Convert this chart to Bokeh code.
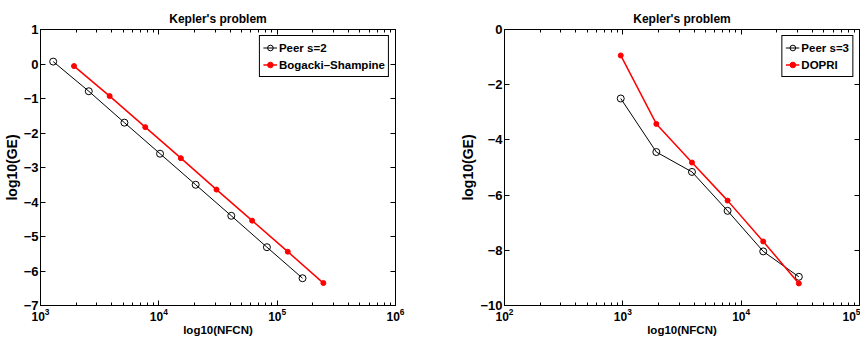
from bokeh.plotting import figure
from bokeh.layouts import row
from bokeh.models import LogAxis, LinearAxis, FixedTicker
from bokeh.embed import file_html
from bokeh.resources import INLINE

# ---- data ----
title_text = "Kepler's problem"
xlabel = "log10(NFCN)"
ylabel = "log10(GE)"

peer2_nfcn = [1280, 2560, 5120, 10240, 20480, 40960, 81920, 163840]
peer2_err = [0.07, -0.79, -1.70, -2.60, -3.50, -4.40, -5.31, -6.21]
bs_nfcn = [1920, 3840, 7680, 15360, 30720, 61440, 122880, 245760]
bs_err = [-0.06, -0.93, -1.83, -2.73, -3.64, -4.54, -5.44, -6.35]

peer3_nfcn = [960, 1920, 3840, 7680, 15360, 30720]
peer3_err = [-2.50, -4.44, -5.16, -6.57, -8.04, -8.96]
dopri_nfcn = [960, 1920, 3840, 7680, 15360, 30720]
dopri_err = [-0.94, -3.42, -4.82, -6.20, -7.68, -9.20]

left_xdec = [3, 4, 5, 6]
left_yticks = [-7, -6, -5, -4, -3, -2, -1, 0, 1]
right_xdec = [2, 3, 4, 5]
right_yticks = [-10, -8, -6, -4, -2, 0]

FONT = "Liberation Sans"
FW, FH = 355, 276


def make(xdec, yticks, s1, s2, border_left, border_right):
    lo, hi = 10 ** xdec[0], 10 ** xdec[-1]
    major = [10 ** d for d in xdec]
    minor = [m * 10 ** d for d in xdec[:-1] for m in range(2, 10)]
    xt = FixedTicker(ticks=major, minor_ticks=minor)
    yt = FixedTicker(ticks=yticks, minor_ticks=[])
    p = figure(x_axis_type="log", x_range=(lo, hi), y_range=(yticks[0], yticks[-1]),
               frame_width=FW, frame_height=FH,
               min_border_left=border_left, min_border_right=border_right,
               min_border_top=29, min_border_bottom=34,
               output_backend="svg", toolbar_location=None,
               x_axis_label=xlabel, y_axis_label=ylabel)
    p.title.text = title_text
    p.title.align = "center"
    p.title.vertical_align = "top"
    p.title.text_font = FONT
    p.title.text_font_style = "bold"
    p.title.text_font_size = "12px"
    p.title.text_color = "black"
    p.title.offset = 0
    p.title.standoff = 3
    p.xgrid.visible = False
    p.ygrid.visible = False
    p.outline_line_color = "black"
    p.outline_line_width = 1
    p.outline_line_alpha = 1
    p.background_fill_color = "white"
    p.border_fill_color = "white"

    xa = p.xaxis[0]
    xa.ticker = xt
    ya = p.yaxis[0]
    ya.ticker = yt
    for ax in (xa, ya):
        ax.major_tick_in = 5
        ax.major_tick_out = 0
        ax.minor_tick_in = 3
        ax.minor_tick_out = 0
        ax.axis_line_color = "black"
        ax.major_tick_line_color = "black"
        ax.minor_tick_line_color = "black"
        ax.major_label_text_font = FONT
        ax.major_label_text_font_style = "bold"
        ax.major_label_text_font_size = "13px"
        ax.major_label_text_color = "black"
        ax.axis_label_text_font = FONT
        ax.axis_label_text_font_style = "bold"
        ax.axis_label_text_font_size = "11.5px"
        ax.axis_label_text_color = "black"
    xa.major_label_text_font_size = "12px"
    ya.axis_label_text_font_size = "14px"
    ya.minor_tick_line_color = None
    xa.major_label_standoff = 2
    xa.axis_label_standoff = 0
    ya.major_label_standoff = 2
    ya.axis_label_standoff = 1

    top = LogAxis(ticker=xt, major_label_text_font_size="2px", major_label_text_alpha=0,
                  major_label_standoff=0,
                  major_tick_in=5, major_tick_out=0, minor_tick_in=3, minor_tick_out=0,
                  axis_line_color="black")
    right = LinearAxis(ticker=yt, major_label_text_font_size="2px", major_label_text_alpha=0,
                       major_label_standoff=0,
                       major_tick_in=5, major_tick_out=0, minor_tick_line_color=None,
                       axis_line_color="black")
    p.add_layout(top, "above")
    p.add_layout(right, "right")

    (n1, x1, e1), (n2, x2, e2) = s1, s2
    p.line(x1, e1, line_color="black", line_width=1, legend_label=n1)
    p.scatter(x1, e1, marker="circle", size=7, line_color="black", fill_color=None,
              line_width=1, legend_label=n1)
    p.line(x2, e2, line_color="red", line_width=1.5, legend_label=n2)
    p.scatter(x2, e2, marker="circle", size=5, line_color="red", fill_color="red",
              legend_label=n2)

    lg = p.legend[0]
    lg.location = "top_right"
    lg.margin = 6
    lg.padding = 3
    lg.spacing = 0
    lg.glyph_width = 14
    lg.glyph_height = 17
    lg.label_height = 17
    lg.label_standoff = 2
    lg.label_text_font = FONT
    lg.label_text_font_style = "bold"
    lg.label_text_font_size = "11.5px"
    lg.label_text_color = "black"
    lg.border_line_color = "black"
    lg.border_line_width = 1
    lg.border_line_alpha = 1
    lg.background_fill_alpha = 1
    return p


p1 = make(left_xdec, left_yticks,
          ("Peer s=2", peer2_nfcn, peer2_err),
          ("Bogacki\u2013Shampine", bs_nfcn, bs_err), 31, 36)
p2 = make(right_xdec, right_yticks,
          ("Peer s=3", peer3_nfcn, peer3_err),
          ("DOPRI", dopri_nfcn, dopri_err), 73, 1)

layout = row(p1, p2, spacing=0)
open("out.html", "w").write(file_html(layout, INLINE))
